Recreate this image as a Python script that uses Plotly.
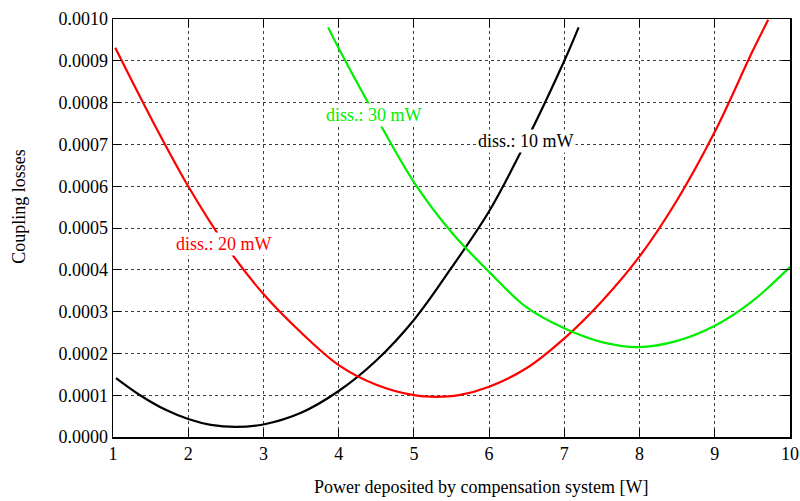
import plotly.graph_objects as go

# diss.: 10 mW (black)
x10 = [1.04, 1.36, 1.7, 2.0, 2.3, 2.64, 3.0, 3.5, 4.0, 4.5, 5.0, 5.5, 6.0, 6.5, 7.0, 7.19]
y10 = [1.41e-4, 1.0e-4, 0.65e-4, 0.43e-4, 0.29e-4, 0.24e-4, 0.30e-4, 0.58e-4, 1.1e-4, 1.83e-4, 2.8e-4, 4.05e-4, 5.4e-4, 7.1e-4, 9.0e-4, 9.8e-4]

# diss.: 20 mW (red)
x20 = [1.03, 1.5, 2.0, 2.5, 3.0, 3.5, 4.0, 4.5, 5.0, 5.3, 5.6, 6.0, 6.5, 7.0, 7.5, 8.0, 8.5, 9.0, 9.5, 9.71]
y20 = [9.31e-4, 7.65e-4, 6.0e-4, 4.58e-4, 3.42e-4, 2.5e-4, 1.72e-4, 1.25e-4, 1.0e-4, 0.96e-4, 1.0e-4, 1.2e-4, 1.65e-4, 2.36e-4, 3.25e-4, 4.32e-4, 5.67e-4, 7.3e-4, 9.22e-4, 9.98e-4]

# diss.: 30 mW (green)
x30 = [3.86, 4.0, 4.5, 5.0, 5.5, 6.0, 6.5, 7.0, 7.5, 7.98, 8.5, 9.0, 9.5, 10.0]
y30 = [9.8e-4, 9.3e-4, 7.65e-4, 6.1e-4, 4.9e-4, 3.95e-4, 3.1e-4, 2.6e-4, 2.27e-4, 2.15e-4, 2.3e-4, 2.66e-4, 3.25e-4, 4.07e-4]

labels = ["diss.: 10 mW", "diss.: 20 mW", "diss.: 30 mW"]
label_x = [6.49, 2.48, 4.47]
label_y = [7.07e-4, 4.61e-4, 7.71e-4]
colors = ["#000000", "#ff0000", "#00ee00"]

x_ticks = list(range(1, 11))
y_ticks = [i * 1e-4 for i in range(11)]

FONT = "Liberation Serif, Times New Roman, serif"
FS = 18

fig = go.Figure()
for xs, ys, c in [(x10, y10, colors[0]), (x20, y20, colors[1]), (x30, y30, colors[2])]:
    fig.add_trace(go.Scatter(x=xs, y=ys, mode="lines",
                             line=dict(color=c, width=2.2, shape="spline", smoothing=1.0),
                             showlegend=False, hoverinfo="skip"))

for t, lx, ly, c in zip(labels, label_x, label_y, colors):
    fig.add_annotation(x=lx, y=ly, xref="x", yref="y", text=t, showarrow=False,
                       font=dict(family=FONT, size=FS, color=c),
                       bgcolor="white", borderpad=1)

fig.add_annotation(x=0.543, y=-0.119, xref="paper", yref="paper",
                   text="Power deposited by compensation system [W]", showarrow=False,
                   font=dict(family=FONT, size=FS, color="black"),
                   xanchor="center", yanchor="middle")
fig.add_annotation(x=-0.139, y=0.553, xref="paper", yref="paper",
                   text="Coupling losses", showarrow=False, textangle=-90,
                   font=dict(family=FONT, size=FS, color="black"),
                   xanchor="center", yanchor="middle")

axis_common = dict(showline=True, linecolor="black", linewidth=1.5, mirror="allticks",
                   ticks="inside", ticklen=8, tickcolor="black", tickwidth=1,
                   showgrid=True, gridcolor="rgba(0,0,0,0.75)", gridwidth=1, griddash="dot",
                   zeroline=False, automargin=False, ticklabeloverflow="allow",
                   tickfont=dict(family=FONT, size=FS, color="black"))

fig.update_xaxes(range=[1, 10], tickvals=x_ticks, ticktext=[str(v) for v in x_ticks], **axis_common)
fig.update_yaxes(range=[0, 0.001], tickvals=y_ticks, ticktext=["%.4f" % v for v in y_ticks], **axis_common)

fig.update_layout(width=800, height=501, margin=dict(l=113, r=10, t=19, b=64, autoexpand=False),
                  plot_bgcolor="white", paper_bgcolor="white", hovermode=False,
                  font=dict(family=FONT, size=FS, color="black"))

fig.write_html("out.html", config={"displayModeBar": False, "staticPlot": True},
               post_script="document.body.style.margin='0';document.body.style.overflow='hidden';")
